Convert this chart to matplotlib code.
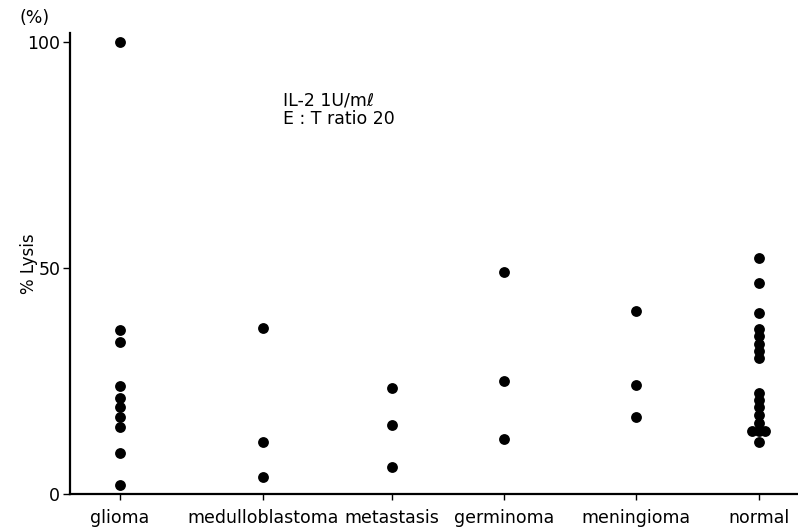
import matplotlib
matplotlib.use("Agg")
import matplotlib.pyplot as plt
import numpy as np

# % lysis per group
groups = ["glioma", "medulloblastoma", "metastasis", "germinoma", "meningioma", "normal"]
glioma = [100, 36.2, 33.6, 24.0, 21.3, 19.2, 17.0, 14.8, 9.0, 2.0]
medulloblastoma = [36.8, 11.6, 3.8]
metastasis = [23.4, 15.3, 6.0]
germinoma = [49.2, 25.0, 12.1]
meningioma = [40.5, 24.1, 17.0]
normal = [52.3, 46.7, 40.0, 36.6, 34.9, 33.2, 31.6, 30.0, 22.4, 20.8, 19.2,
          17.5, 15.6, 14.0, 14.0, 14.0, 11.5]
yticks = [0, 50, 100]

# layout: column centres (axis runs 70..798 like the page)
xpos = [120, 263, 392, 504, 636, 759]
spread = 6.5


def offsets(vals):
    # put equal values side by side
    vals = np.asarray(vals)
    off = np.zeros(len(vals))
    for v in np.unique(vals):
        idx = np.where(vals == v)[0]
        n = len(idx)
        if n > 1:
            off[idx] = (np.arange(n) - (n - 1) / 2) * spread
    return off


fig = plt.figure(figsize=(7.98, 5.27), dpi=100)
ax = fig.add_axes([0.0877, 0.0626, 0.9123, 0.875])

data = [glioma, medulloblastoma, metastasis, germinoma, meningioma, normal]
for x, vals in zip(xpos, data):
    xs = x + offsets(vals)
    ax.plot(xs, vals, "o", color="black", markersize=7.8, markeredgewidth=0,
            clip_on=False)

ax.set_xlim(70, 798)
ax.set_ylim(0, 102)
ax.spines["top"].set_visible(False)
ax.spines["right"].set_visible(False)
ax.spines["left"].set_linewidth(1.6)
ax.spines["bottom"].set_linewidth(1.6)
ax.set_xticks(xpos)
ax.set_xticklabels(groups, fontsize=12.5)
ax.set_yticks(yticks)
ax.set_yticklabels([str(t) for t in yticks], fontsize=12.5, family="Liberation Sans Narrow")
ax.tick_params(axis="x", length=4, width=1, pad=7)
ax.tick_params(axis="y", length=5, width=1, pad=2)

ax.set_ylabel("% Lysis", fontsize=12)
ax.yaxis.set_label_coords(-0.044, 0.5)
fig.text(0.025, 0.965, "(%)", fontsize=12.5, ha="left", va="center")
ax.text(283, 85, "IL-2 1U/m\u2113\nE : T ratio 20", fontsize=12.5, ha="left",
        va="center", linespacing=1.0)

fig.savefig("out.png", dpi=100)
